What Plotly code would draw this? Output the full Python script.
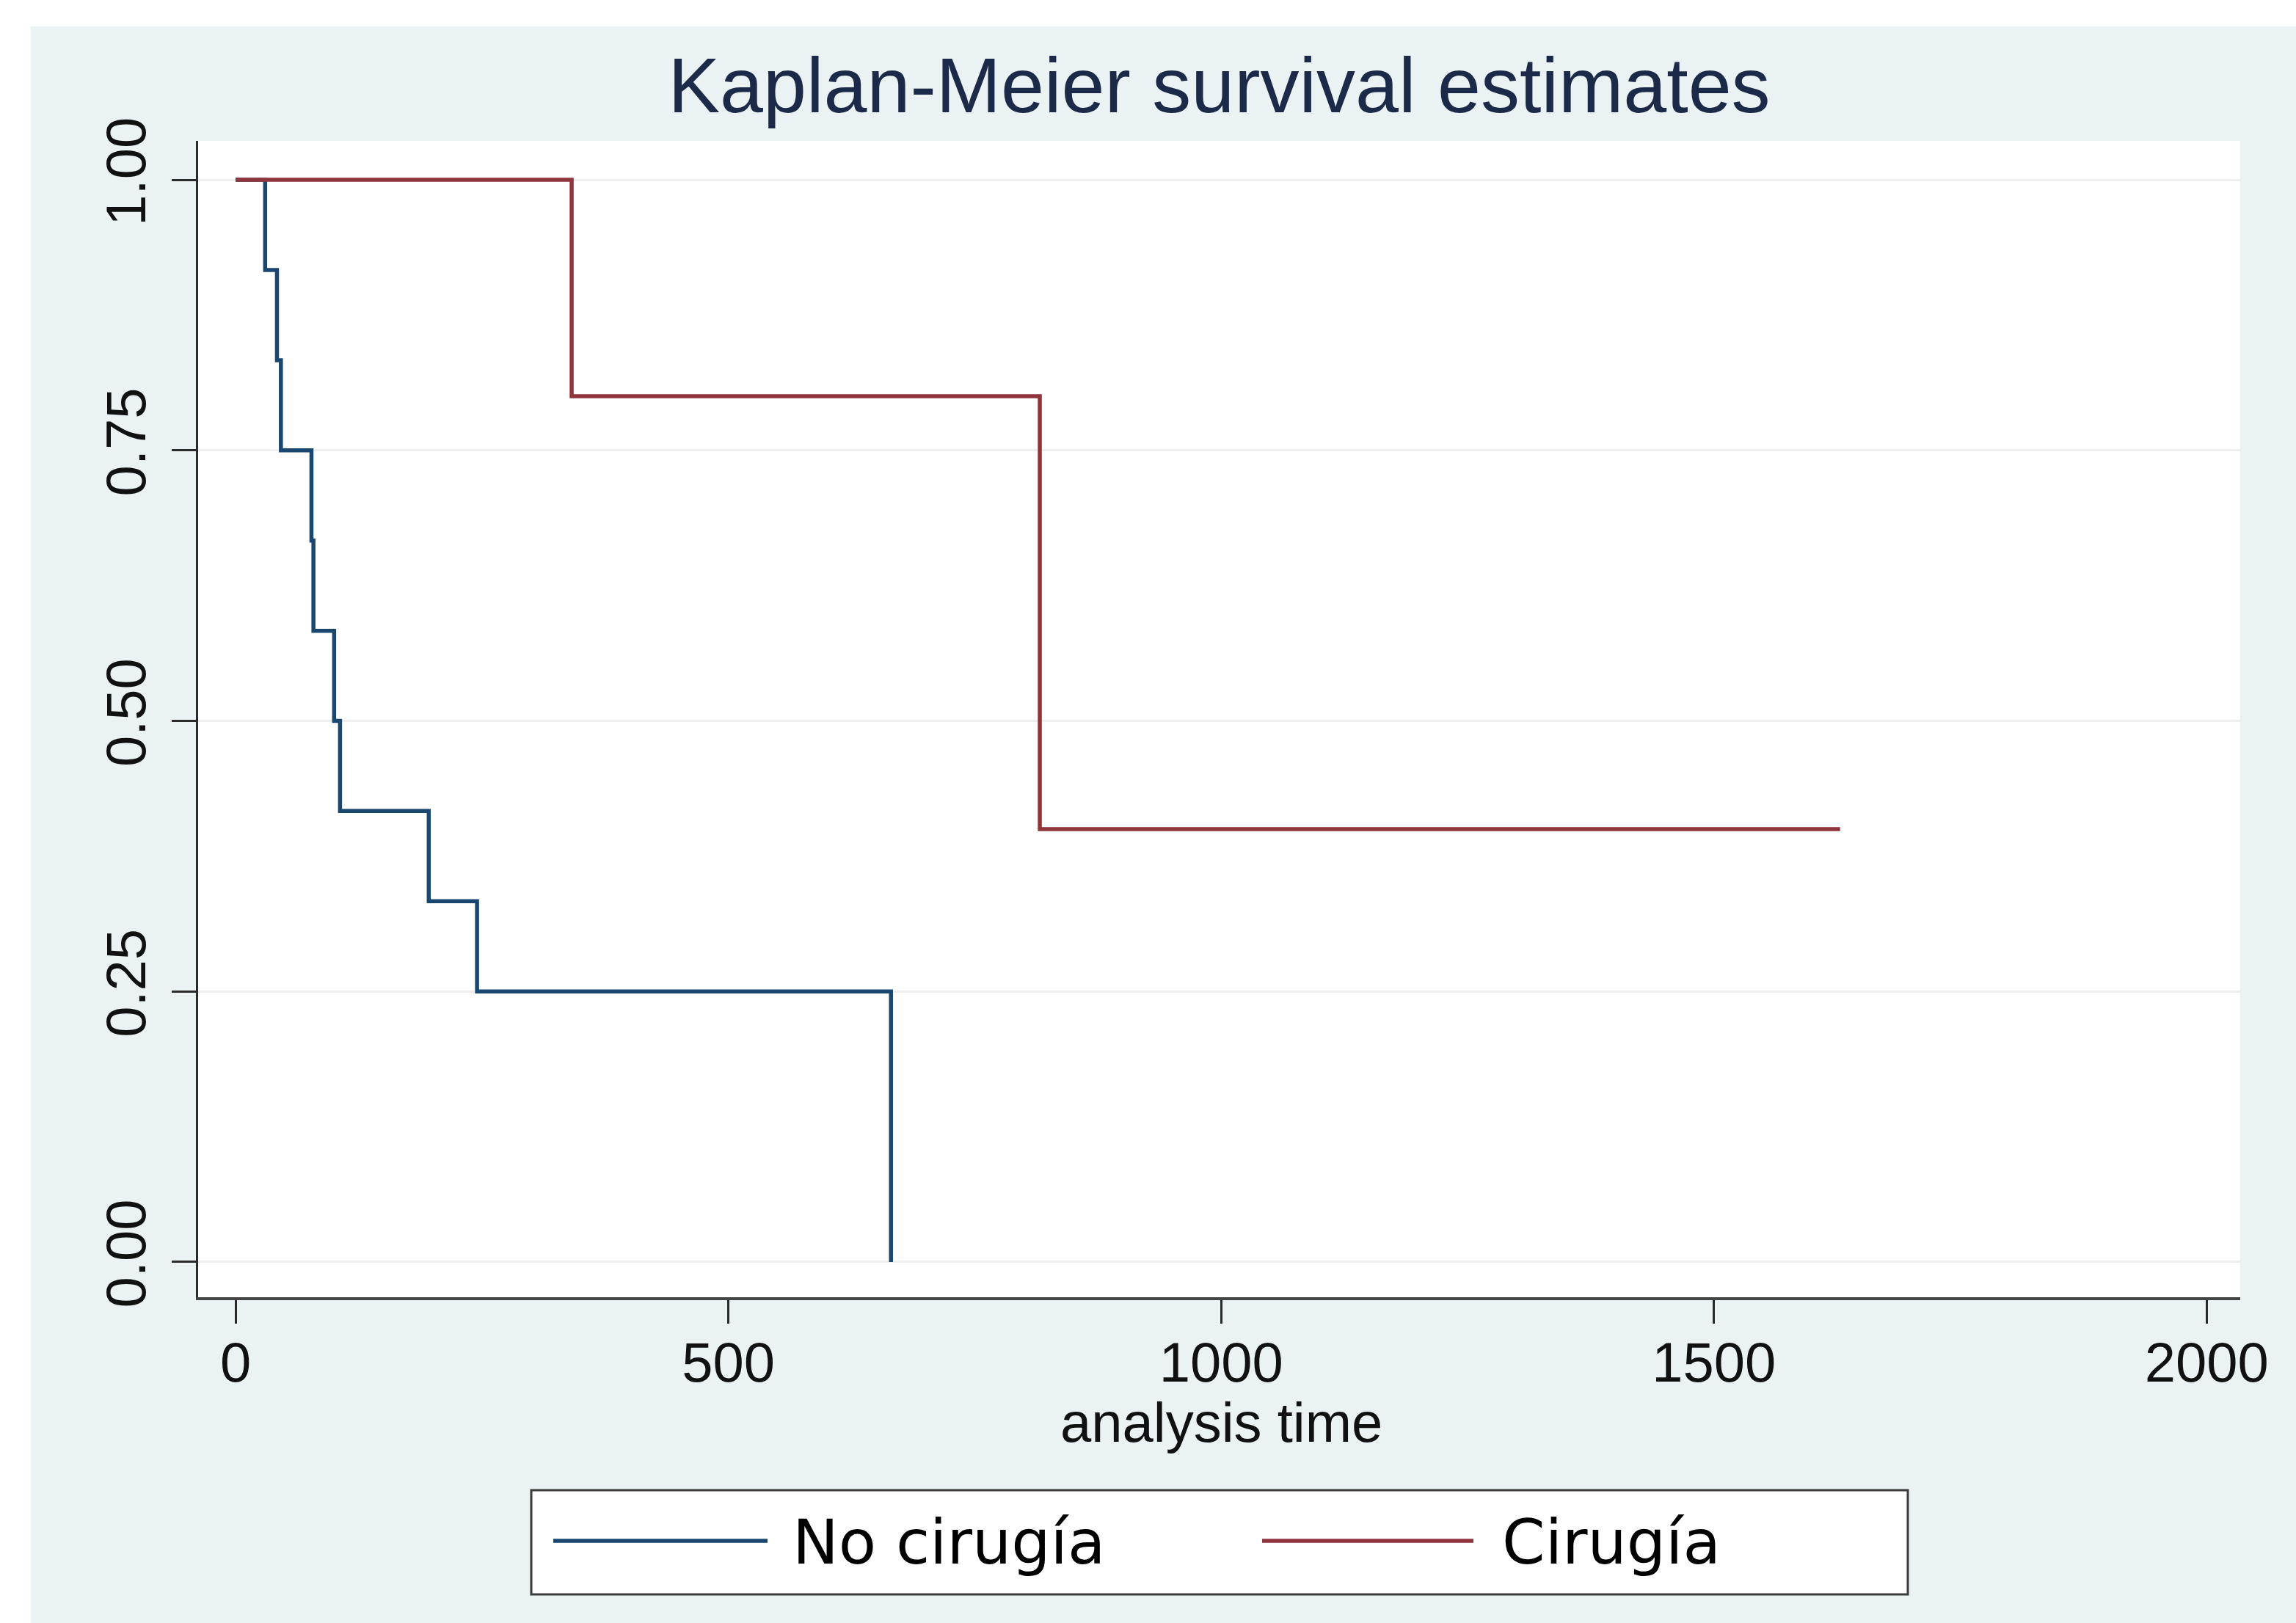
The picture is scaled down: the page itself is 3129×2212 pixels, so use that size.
import plotly.graph_objects as go

# ---- data ----
no_cirugia_time = [0, 30, 42, 46, 77, 79, 100, 106, 196, 245, 665]
no_cirugia_surv = [1.0, 0.9167, 0.8333, 0.75, 0.6667, 0.5833, 0.5, 0.4167, 0.3333, 0.25, 0.0]
cirugia_time = [0, 341, 816, 1628]
cirugia_surv = [1.0, 0.8, 0.4, 0.4]

x_ticks = [0, 500, 1000, 1500, 2000]
x_ticktext = ["0", "500", "1000", "1500", "2000"]
y_ticks = [0.0, 0.25, 0.5, 0.75, 1.0]
y_ticktext = ["0.00", "0.25", "0.50", "0.75", "1.00"]

series_names = ["No cirugía", "Cirugía"]
series_colors = ["#1a476f", "#90353b"]

# ---- layout geometry (pixels) ----
W, H = 3129, 2212
L, R, T, B = 270, 3129 - 3053, 192, 2212 - 1768
PW = W - L - R
PH = H - T - B


def px(X):
    return (X - L) / PW


def py(Y):
    return (H - B - Y) / PH


GRAPH_BG = "#eaf2f3"
FONT = "Liberation Sans, Arial, sans-serif"

fig = go.Figure()
fig.add_trace(go.Scatter(x=no_cirugia_time, y=no_cirugia_surv, mode="lines",
                         line=dict(shape="hv", color=series_colors[0], width=5.5),
                         name=series_names[0], showlegend=False))
fig.add_trace(go.Scatter(x=cirugia_time, y=cirugia_surv, mode="lines",
                         line=dict(shape="hv", color=series_colors[1], width=5.5),
                         name=series_names[1], showlegend=False))

shapes = [
    # white strips around the graph region
    dict(type="rect", xref="paper", yref="paper", x0=px(0), x1=px(W), y0=py(36), y1=py(0),
         fillcolor="white", line=dict(width=0), layer="below"),
    dict(type="rect", xref="paper", yref="paper", x0=px(0), x1=px(42), y0=py(H), y1=py(0),
         fillcolor="white", line=dict(width=0), layer="below"),
    # legend box
    dict(type="rect", xref="paper", yref="paper", x0=px(724), x1=px(2600), y0=py(2173), y1=py(2031),
         fillcolor="white", line=dict(color="#3a3a3a", width=3)),
    dict(type="line", xref="paper", yref="paper", x0=px(754), x1=px(1046), y0=py(2100), y1=py(2100),
         line=dict(color=series_colors[0], width=5.5)),
    dict(type="line", xref="paper", yref="paper", x0=px(1720), x1=px(2008), y0=py(2100), y1=py(2100),
         line=dict(color=series_colors[1], width=5.5)),
]

annotations = [
    dict(text="analysis time", xref="paper", yref="paper", x=px(1664), y=py(1938),
         xanchor="center", yanchor="middle", showarrow=False,
         font=dict(family=FONT, size=76, color="#111111")),
    dict(text=series_names[0], xref="paper", yref="paper", x=px(1078), y=py(2102),
         xanchor="left", yanchor="middle", showarrow=False,
         font=dict(family="DejaVu Sans, Verdana, sans-serif", size=84, color="black")),
    dict(text=series_names[1], xref="paper", yref="paper", x=px(2045), y=py(2102),
         xanchor="left", yanchor="middle", showarrow=False,
         font=dict(family="DejaVu Sans, Verdana, sans-serif", size=84, color="black")),
]

fig.update_layout(
    width=W, height=H,
    margin=dict(l=L, r=R, t=T, b=B, pad=0),
    paper_bgcolor=GRAPH_BG,
    plot_bgcolor="white",
    showlegend=False,
    title=dict(text="Kaplan-Meier survival estimates", x=0.5, xref="paper",
               xanchor="center", y=1 - 116 / H, yref="container", yanchor="middle",
               font=dict(family=FONT, size=106, color="#1c2a4a")),
    shapes=shapes,
    annotations=annotations,
    xaxis=dict(range=[-38, 2034], tickvals=x_ticks, ticktext=x_ticktext,
               showgrid=False, zeroline=False, showline=True, linecolor="#444444", linewidth=4,
               ticks="outside", ticklen=32, tickwidth=3, tickcolor="#2a2a2a",
               ticklabelstandoff=-12,
               tickfont=dict(family=FONT, size=76, color="#111111"),
               automargin=False, fixedrange=True),
    yaxis=dict(range=[-0.0326, 1.036], tickvals=y_ticks, ticktext=y_ticktext,
               showgrid=True, gridcolor="#eeeeee", gridwidth=3,
               zeroline=False, showline=True, linecolor="#2a2a2a", linewidth=3,
               ticks="outside", ticklen=33, tickwidth=3, tickcolor="#2a2a2a", tickangle=-90,
               ticklabelstandoff=6,
               tickfont=dict(family=FONT, size=76, color="#111111"),
               automargin=False, fixedrange=True),
)

fig.write_html("out.html", config={"displayModeBar": False},
               post_script="document.body.style.margin='0';document.body.style.overflow='hidden';")
